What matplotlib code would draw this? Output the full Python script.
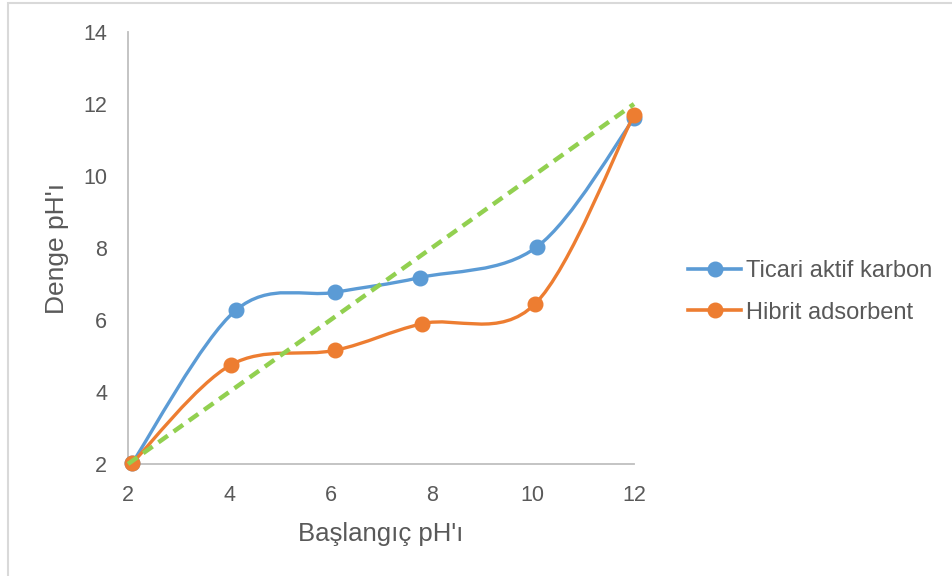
import matplotlib
matplotlib.use("Agg")
import matplotlib.pyplot as plt
import numpy as np
from matplotlib.path import Path
from matplotlib.patches import PathPatch, Rectangle
from matplotlib.lines import Line2D

plt.rcParams['font.family'] = ['Liberation Sans', 'DejaVu Sans']

# Data
ticari_x = [2.08, 4.13, 6.09, 7.77, 10.08, 12.0]
ticari_y = [2.02, 6.27, 6.77, 7.18, 8.03, 11.6]
hibrit_x = [2.08, 4.03, 6.10, 7.82, 10.04, 12.0]
hibrit_y = [2.02, 4.75, 5.16, 5.90, 6.44, 11.7]
ref_x = [2.0, 12.0]
ref_y = [2.0, 12.0]
series_names = ["Ticari aktif karbon", "Hibrit adsorbent"]
x_ticks = [2, 4, 6, 8, 10, 12]
y_ticks = [2, 4, 6, 8, 10, 12, 14]

BLUE = "#5b9bd5"
ORANGE = "#ed7d31"
GREEN = "#92d050"
TXT = "#595959"
AX = "#bfbfbf"


def smooth_path(xs, ys):
    """Cubic Bezier spline through the points (Catmull-Rom style tangents)."""
    p = np.column_stack([xs, ys]).astype(float)
    n = len(p)
    verts = [p[0]]
    codes = [Path.MOVETO]
    for i in range(n - 1):
        p0 = p[i - 1] if i > 0 else p[i]
        p1 = p[i]
        p2 = p[i + 1]
        p3 = p[i + 2] if i + 2 < n else p[i + 1]
        c1 = p1 + (p2 - p0) / 6.0
        c2 = p2 - (p3 - p1) / 6.0
        verts += [c1, c2, p2]
        codes += [Path.CURVE4] * 3
    return Path(np.array(verts), codes)


fig = plt.figure(figsize=(9.52, 5.76), dpi=100)
fig.patches.append(Rectangle((8 / 952, -0.05), 1.1, 1.05 - 3 / 576,
                             transform=fig.transFigure, fill=False,
                             edgecolor="#d9d9d9", linewidth=1.5))

ax = fig.add_axes([128 / 952, 1 - 464 / 576, (634 - 128) / 952, (464 - 32) / 576])
ax.set_xlim(2, 12)
ax.set_ylim(2, 14)

for xs, ys, col, z in [(ticari_x, ticari_y, BLUE, 3), (hibrit_x, hibrit_y, ORANGE, 4)]:
    ax.add_patch(PathPatch(smooth_path(xs, ys), facecolor="none", edgecolor=col,
                           linewidth=2.4, capstyle="round", zorder=z, clip_on=False))
    ax.plot(xs, ys, linestyle="none", marker="o", markersize=10.5, color=col,
            zorder=z + 0.5, clip_on=False)

ax.plot(ref_x, ref_y, color=GREEN, linewidth=3.2, linestyle=(0, (2.6, 1.6)),
        zorder=6, clip_on=False)

for side in ["top", "right"]:
    ax.spines[side].set_visible(False)
for side in ["left", "bottom"]:
    ax.spines[side].set_color(AX)
    ax.spines[side].set_linewidth(1.3)

ax.set_xticks(x_ticks)
ax.set_yticks(y_ticks)
ax.tick_params(length=0, labelsize=15.5, labelcolor=TXT)
ax.tick_params(axis="x", pad=15)
ax.tick_params(axis="y", pad=15)

ax.set_xlabel("Başlangıç pH'ı", fontsize=18.5, color=TXT, labelpad=12)
ax.set_ylabel("Denge pH'ı", fontsize=19, color=TXT, labelpad=10)

handles = [Line2D([], [], color=BLUE, linewidth=2.6, marker="o", markersize=10.5),
           Line2D([], [], color=ORANGE, linewidth=2.6, marker="o", markersize=10.5)]
fig.legend(handles, series_names, loc="center left",
           bbox_to_anchor=(688 / 952, 1 - 292 / 576), frameon=False,
           fontsize=17, labelcolor=TXT, handlelength=2.25, handletextpad=0.2,
           labelspacing=0.82, borderaxespad=0, borderpad=0)

fig.savefig("out.png", dpi=100)
